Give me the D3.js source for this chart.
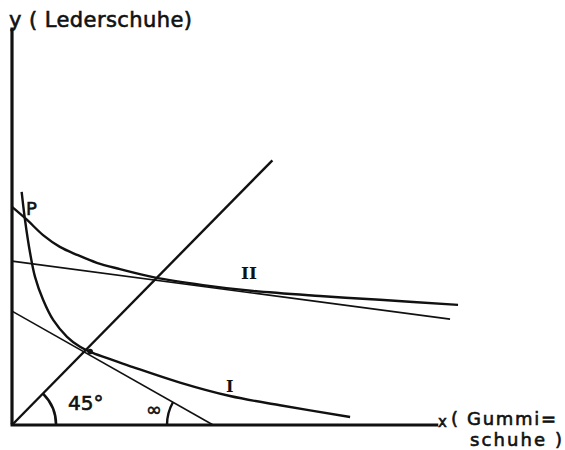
<!DOCTYPE html>
<html>
<head>
<meta charset="utf-8">
<script src="https://cdn.jsdelivr.net/npm/d3@7"></script>
<style>
  body { margin: 0; background: #fff; }
  svg { display: block; }
  .lbl { font-family: "DejaVu Sans", sans-serif; fill: #111; stroke: #111; stroke-width: 0.6px; }
  .roman { font-family: "DejaVu Serif", serif; font-weight: bold; fill: #111; }
</style>
</head>
<body>
<div id="chart"></div>
<script>
// curve points, in axis units (x: Gummischuhe, y: Lederschuhe)
var curveII = [[0,51.9],[3.6,48.8],[7.4,45.2],[11.4,42.4],[15.5,40.5],[20.2,38.6],[25.7,37.1],[33.6,35.2],[45.5,33.3],[57.4,31.9],[73.3,30.7],[87.6,29.8],[106.2,28.6]];
var curveI = [[2.3,55.5],[3.1,48.8],[4.3,41],[5.5,35.2],[7.4,29.8],[9.8,25],[13.1,21],[16.2,18.6],[18.6,17.4],[28.8,13.8],[40,10.1],[51.9,6.9],[63.8,4.7],[80.5,1.9]];
var budgetII = [[0,39],[104.3,25.2]];
var budgetI = [[0,27.1],[47.9,0]];
var diagonal = [[0,0],[62,63]];
var angleLabels = ['45°', '∞'];
var curveLabels = ['I', 'II'];

var drawChart = function(){
  var width = 565, height = 450;

  var x = d3.scaleLinear().domain([0, 100]).range([12, 432]);
  var y = d3.scaleLinear().domain([0, 96.4]).range([425, 20]);

  var svg = d3.select('#chart').append('svg')
    .attr('width', width)
    .attr('height', height);

  var line = d3.line()
    .x(function(d){ return x(d[0]); })
    .y(function(d){ return y(d[1]); });

  var smooth = d3.line()
    .curve(d3.curveCatmullRom)
    .x(function(d){ return x(d[0]); })
    .y(function(d){ return y(d[1]); });

  // axes
  svg.append('line')
    .attr('x1', x(0)).attr('y1', y(0.2))
    .attr('x2', x(0)).attr('y2', y(94.6))
    .attr('stroke', '#111').attr('stroke-width', 3.2);
  svg.append('line')
    .attr('x1', x(0) - 1.5).attr('y1', y(0))
    .attr('x2', x(101.5)).attr('y2', y(0))
    .attr('stroke', '#111').attr('stroke-width', 3);

  // 45 degree line
  svg.append('path')
    .attr('d', line(diagonal))
    .attr('fill', 'none').attr('stroke', '#111').attr('stroke-width', 2.4);

  // budget lines
  [budgetI, budgetII].forEach(function(b){
    svg.append('path')
      .attr('d', line(b))
      .attr('fill', 'none').attr('stroke', '#111').attr('stroke-width', 1.6);
  });

  // indifference curves
  [curveI, curveII].forEach(function(c){
    svg.append('path')
      .attr('d', smooth(c))
      .attr('fill', 'none').attr('stroke', '#111').attr('stroke-width', 2.4);
  });

  // angle arcs
  var r45 = x(10.5) - x(0);
  var arc45 = d3.arc().innerRadius(r45).outerRadius(r45)
    .startAngle(Math.PI / 4).endAngle(Math.PI / 2);
  svg.append('path')
    .attr('transform', 'translate(' + x(0) + ',' + y(0) + ')')
    .attr('d', arc45())
    .attr('fill', 'none').attr('stroke', '#111').attr('stroke-width', 2.6);

  var slope = Math.atan2(y(0) - y(budgetI[0][1]), x(budgetI[1][0]) - x(0));
  var rA = x(11) - x(0);
  var arcA = d3.arc().innerRadius(rA).outerRadius(rA)
    .startAngle(-Math.PI / 2).endAngle(-Math.PI / 2 + slope);
  svg.append('path')
    .attr('transform', 'translate(' + x(budgetI[1][0]) + ',' + y(0) + ')')
    .attr('d', arcA())
    .attr('fill', 'none').attr('stroke', '#111').attr('stroke-width', 2.4);

  // tangency point on curve I
  svg.append('circle')
    .attr('cx', x(18.6)).attr('cy', y(17.5)).attr('r', 2.8).attr('fill', '#111');

  // labels
  svg.append('text').attr('class', 'lbl')
    .attr('x', 9).attr('y', 27)
    .attr('textLength', 183)
    .style('font-size', '21px')
    .text('y ( Lederschuhe)');
  svg.append('text').attr('class', 'lbl')
    .attr('x', 438).attr('y', 427)
    .style('font-size', '15px')
    .text('x');
  svg.append('text').attr('class', 'lbl')
    .attr('x', 451).attr('y', 425)
    .attr('textLength', 105)
    .style('font-size', '18px')
    .text('( Gummi=');
  svg.append('text').attr('class', 'lbl')
    .attr('x', 470).attr('y', 446)
    .attr('textLength', 92)
    .style('font-size', '18px')
    .text('schuhe )');
  svg.append('text').attr('class', 'lbl')
    .attr('x', 26).attr('y', 215)
    .style('font-size', '18px')
    .text('P');

  svg.append('text').attr('class', 'lbl')
    .attr('x', 68).attr('y', 410)
    .style('font-size', '20px')
    .text(angleLabels[0]);
  svg.append('text').attr('class', 'lbl')
    .attr('x', 146).attr('y', 416)
    .style('font-size', '19px')
    .text(angleLabels[1]);

  svg.append('text').attr('class', 'roman')
    .attr('x', 226).attr('y', 392)
    .style('font-size', '16px')
    .text(curveLabels[0]);
  svg.append('text').attr('class', 'roman')
    .attr('x', 241).attr('y', 279)
    .style('font-size', '17px')
    .text(curveLabels[1]);
};

drawChart();
</script>
</body>
</html>
